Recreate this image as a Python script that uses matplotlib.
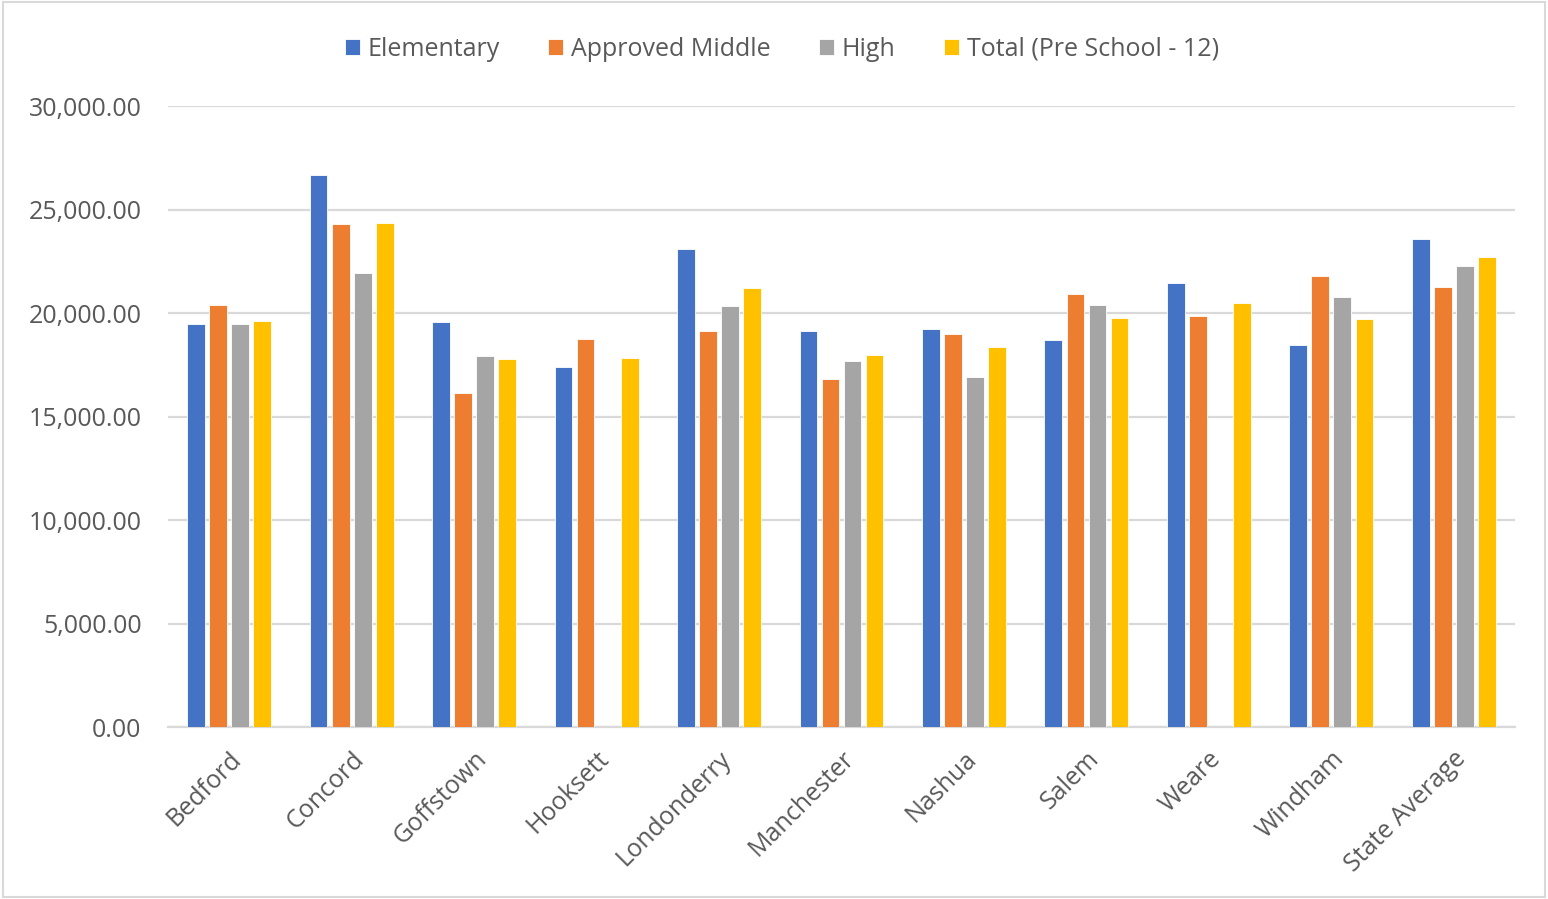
import matplotlib.pyplot as plt
import numpy as np
from matplotlib.patches import Rectangle

towns = ['Bedford', 'Concord', 'Goffstown', 'Hooksett', 'Londonderry', 'Manchester',
         'Nashua', 'Salem', 'Weare', 'Windham', 'State Average']
elementary = [19485, 26650, 19560, 17410, 23080, 19140, 19210, 18710, 21430, 18480, 23580]
middle = [20410, 24290, 16120, 18770, 19140, 16830, 18980, 20920, 19840, 21780, 21250]
high = [19485, 21930, 17910, np.nan, 20360, 17690, 16910, 20410, np.nan, 20770, 22270]
total = [19630, 24350, 17770, 17850, 21200, 17980, 18340, 19780, 20470, 19690, 22700]

series = [('Elementary', elementary, '#4472C4'),
          ('Approved Middle', middle, '#ED7D31'),
          ('High', high, '#A5A5A5'),
          ('Total (Pre School - 12)', total, '#FFC000')]

plt.rcParams['font.family'] = ['Open Sans', 'DejaVu Sans']
txt = '#595959'

fig = plt.figure(figsize=(15.48, 8.99), dpi=100)
ax = fig.add_axes([0.1085, 0.1913, 0.8702, 0.6907])

x = np.arange(len(towns))
step = 0.18
w = 0.145
for i, (name, vals, col) in enumerate(series):
    ax.bar(x + (i - 1.5) * step, vals, w, color=col, label=name,
           edgecolor='white', linewidth=0.6, zorder=3)

ax.set_xlim(-0.5, len(towns) - 0.5)
ax.set_ylim(0, 30000)
ax.set_yticks(np.arange(0, 30001, 5000))
ax.set_yticklabels([f'{v:,.2f}' for v in np.arange(0, 30001, 5000)])
ax.grid(axis='y', color='#d9d9d9', linewidth=1.6, zorder=0)
for s in ['top', 'right', 'left']:
    ax.spines[s].set_visible(False)
ax.spines['bottom'].set_color('#d9d9d9')
ax.spines['bottom'].set_linewidth(1.6)
ax.tick_params(axis='y', length=0, pad=19, labelsize=18, labelcolor=txt)
ax.tick_params(axis='x', length=0, pad=14, labelsize=18, labelcolor=txt)
ax.set_xticks(x)
ax.set_xticklabels(towns, rotation=45, ha='right', rotation_mode='anchor')

fig.legend(loc='center', bbox_to_anchor=(0.505, 0.945), ncol=4, frameon=False,
           fontsize=18, labelcolor=txt, handlelength=0.6, handleheight=0.6,
           handletextpad=0.3, columnspacing=1.95)

fig.patches.append(Rectangle((0.002, 0.002), 0.996, 0.996, transform=fig.transFigure,
                             fill=False, edgecolor='#d9d9d9', linewidth=1.5))

fig.savefig('out.png', dpi=100)
